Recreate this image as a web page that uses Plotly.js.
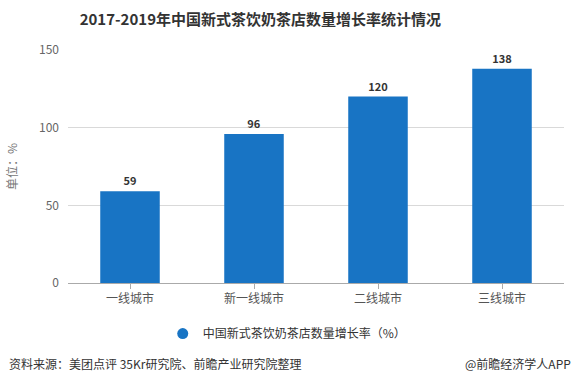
<!DOCTYPE html>
<html><head><meta charset="utf-8">
<script src="https://cdn.plot.ly/plotly-3.0.1.min.js"></script>
<style>html,body{margin:0;padding:0;background:#fff}#chart{width:576px;height:381px}</style>
</head><body><div id="chart"></div>
<script>
const categories = ['一线城市', '新一线城市', '二线城市', '三线城市'];
const growthRate = [59, 96, 120, 138];
const seriesName = '中国新式茶饮奶茶店数量增长率（%）';
const yTicks = [0, 50, 100, 150];

const FONT = '"Noto Sans CJK SC", "Noto Sans", sans-serif';
const BAR = '#1874c4';

const traces = [
  {
    type: 'bar', x: categories, y: growthRate, showlegend: false,
    marker: {color: BAR},
    text: growthRate.map(String), textposition: 'outside', cliponaxis: false,
    textfont: {family: FONT, size: 11, color: '#333', weight: 'bold'},
    hoverinfo: 'skip'
  },
  {
    type: 'scatter', mode: 'markers', x: [null], y: [null], name: seriesName,
    marker: {color: BAR, size: 11, symbol: 'circle'}, showlegend: true
  }
];

const layout = {
  width: 576, height: 381,
  margin: {l: 68, r: 12, t: 50, b: 98},
  paper_bgcolor: '#fff', plot_bgcolor: '#fff',
  font: {family: FONT, size: 12, color: '#555'},
  title: {text: '<b>2017-2019年中国新式茶饮奶茶店数量增长率统计情况</b>', x: 0.452, xanchor: 'center', y: 0.947, yanchor: 'middle',
          font: {family: FONT, size: 15, color: '#333'}},
  bargap: 0.52,
  xaxis: {
    showline: true, linecolor: '#aaa', linewidth: 1,
    ticks: 'outside', ticklen: 5, tickcolor: '#aaa',
    tickfont: {family: FONT, size: 12, color: '#555'},
    showgrid: false, fixedrange: true
  },
  yaxis: {
    range: [0, 150], tickvals: yTicks, ticktext: yTicks.map(String),
    showgrid: true, gridcolor: '#d9d9d9', zeroline: false, showline: false,
    ticks: '', ticklabelstandoff: 8,
    tickfont: {family: FONT, size: 12, color: '#666'},
    title: {text: '单位：%', standoff: 18, font: {family: FONT, size: 12, color: '#777'}}
  },
  legend: {
    orientation: 'h', x: 0.442, xanchor: 'center', y: -0.155, yanchor: 'top',
    font: {family: FONT, size: 12, color: '#333'}, itemwidth: 30
  },
  annotations: [
    {xref: 'paper', yref: 'paper', x: -0.123, y: -0.30, xanchor: 'left', yanchor: 'top', showarrow: false,
     text: '资料来源：美团点评 35Kr研究院、前瞻产业研究院整理', font: {family: FONT, size: 12, color: '#333'}},
    {xref: 'paper', yref: 'paper', x: 1.018, y: -0.30, xanchor: 'right', yanchor: 'top', showarrow: false,
     text: '@前瞻经济学人APP', font: {family: FONT, size: 12, color: '#333'}}
  ]
};

Plotly.newPlot('chart', traces, layout, {displayModeBar: false, staticPlot: true});
</script></body></html>
